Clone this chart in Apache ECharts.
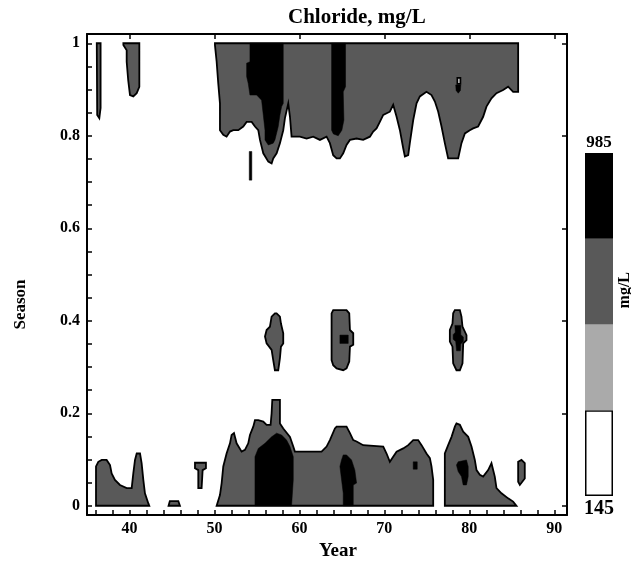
<!DOCTYPE html>
<html><head><meta charset="utf-8">
<script src="https://cdn.jsdelivr.net/npm/echarts@6/dist/echarts.min.js"></script>
<style>html,body{margin:0;padding:0;background:#fff}#c{width:631px;height:567px}</style>
</head><body><div id="c"></div>
<script>
// ---- axes ----
const xTicks = [36,38,40,42,44,46,48,50,52,54,56,58,60,62,64,66,68,70,72,74,76,78,80,82,84,86,88,90];
const xLabels = [40,50,60,70,80,90];
const yTicks = [0,0.05,0.1,0.15,0.2,0.25,0.3,0.35,0.4,0.45,0.5,0.55,0.6,0.65,0.7,0.75,0.8,0.85,0.9,0.95,1];
const yLabels = [0,0.2,0.4,0.6,0.8,1];
// ---- colour levels (mg/L) ----
const levels = [145,355,565,775,985];
const levelColors = ['#ffffff','#aaaaaa','#595959','#000000'];
// ---- contour regions: [year, season] boundary points ----
const topBand = [[50.06,1.0],[85.75,1.0],[85.75,0.895],[85.16,0.895],[84.57,0.906],[83.98,0.899],[83.20,0.892],[82.61,0.881],[82.02,0.863],[81.63,0.841],[81.04,0.820],[80.45,0.816],[80.06,0.812],[79.48,0.805],[79.08,0.784],[78.69,0.751],[77.51,0.751],[77.12,0.784],[76.73,0.820],[76.34,0.852],[75.95,0.874],[75.55,0.888],[74.96,0.895],[74.18,0.885],[73.79,0.870],[73.40,0.834],[73.00,0.784],[72.81,0.758],[72.42,0.755],[72.22,0.773],[71.83,0.812],[71.44,0.841],[71.04,0.867],[70.65,0.852],[69.87,0.845],[69.47,0.830],[69.08,0.816],[68.69,0.809],[68.30,0.798],[67.51,0.791],[66.73,0.794],[65.95,0.791],[65.55,0.780],[65.16,0.762],[64.77,0.751],[64.38,0.751],[63.98,0.758],[63.59,0.784],[63.20,0.798],[62.42,0.791],[61.63,0.798],[60.85,0.794],[60.06,0.798],[59.08,0.798],[58.89,0.841],[58.69,0.870],[58.30,0.838],[58.10,0.812],[57.71,0.784],[57.32,0.762],[56.92,0.751],[56.73,0.740],[56.34,0.744],[55.75,0.762],[55.36,0.791],[55.16,0.812],[54.77,0.820],[54.38,0.830],[53.79,0.830],[53.39,0.820],[52.81,0.812],[52.22,0.812],[51.83,0.809],[51.43,0.798],[51.04,0.802],[50.65,0.812],[50.65,0.870],[50.45,0.913],[50.26,0.960],[50.06,0.996]];
const topThin = [[36.15,1.0],[36.6,1.0],[36.6,0.86],[36.45,0.838],[36.2,0.845]];
const topSmall = [[39.28,1.0],[41.16,1.0],[41.16,0.906],[40.85,0.892],[40.45,0.885],[40.06,0.888],[39.85,0.92],[39.67,0.96],[39.67,0.985],[39.28,0.996]];
const topBlack1 = [[54.18,1.0],[58.10,1.0],[58.10,0.870],[57.91,0.863],[57.71,0.845],[57.51,0.820],[57.12,0.791],[56.92,0.784],[56.34,0.780],[55.95,0.791],[55.95,0.812],[55.75,0.845],[55.55,0.877],[54.97,0.888],[54.18,0.888],[53.98,0.913],[53.79,0.928],[53.79,0.957],[54.18,0.960]];
const topBlack2 = [[63.79,1.0],[65.43,1.0],[65.43,0.906],[65.16,0.895],[65.24,0.834],[65.0,0.812],[64.57,0.800],[64.0,0.804],[63.79,0.812]];
const topBlackDot = [[78.4,0.91],[79.0,0.91],[78.95,0.898],[78.7,0.892],[78.45,0.898]];
const topWhiteDot = [[78.6,0.925],[78.95,0.925],[78.95,0.912],[78.6,0.912]];
const topStreak = [[54.1,0.766],[54.4,0.766],[54.4,0.704],[54.1,0.704]];
const islandA = [[57.12,0.416],[57.32,0.416],[57.71,0.409],[57.83,0.394],[58.10,0.373],[58.10,0.351],[57.83,0.344],[57.71,0.319],[57.51,0.293],[57.12,0.293],[56.92,0.315],[56.73,0.337],[56.14,0.351],[55.95,0.366],[56.14,0.380],[56.53,0.387],[56.73,0.409]];
const islandB = [[63.98,0.423],[65.55,0.423],[65.87,0.416],[65.95,0.380],[66.34,0.373],[66.34,0.348],[65.95,0.344],[65.87,0.312],[65.55,0.297],[65.16,0.293],[64.38,0.297],[63.98,0.304],[63.79,0.315],[63.79,0.416]];
const islandBBlack = [[64.77,0.369],[65.75,0.369],[65.75,0.351],[64.77,0.351]];
const islandC = [[78.30,0.423],[78.89,0.423],[79.08,0.409],[79.20,0.387],[79.67,0.369],[79.67,0.358],[79.28,0.351],[79.20,0.308],[78.89,0.293],[78.49,0.293],[78.10,0.308],[78.02,0.344],[77.71,0.355],[77.71,0.380],[78.02,0.394],[78.10,0.416]];
const islandCBlack = [[78.3,0.39],[79.0,0.39],[79.0,0.37],[79.3,0.365],[79.3,0.355],[79.0,0.35],[78.95,0.335],[78.5,0.335],[78.4,0.355],[78.1,0.36],[78.1,0.37],[78.35,0.375]];
const botLeft = [[36.06,0.0],[36.06,0.085],[36.33,0.095],[36.73,0.099],[37.31,0.099],[37.71,0.088],[37.90,0.070],[38.29,0.056],[38.88,0.045],[39.67,0.038],[40.26,0.038],[40.45,0.070],[40.65,0.099],[40.85,0.113],[41.24,0.113],[41.43,0.092],[41.63,0.056],[41.82,0.027],[42.22,0.005],[42.33,0.0]];
const botTiny = [[44.6,0.0],[44.75,0.01],[45.75,0.01],[45.94,0.0]];
const botT = [[47.71,0.093],[49.00,0.093],[49.00,0.081],[48.61,0.077],[48.49,0.038],[48.10,0.038],[48.10,0.077],[47.71,0.081]];
const botMain = [[50.26,0.0],[50.65,0.023],[50.85,0.049],[51.04,0.085],[51.43,0.113],[51.83,0.135],[52.02,0.153],[52.30,0.157],[52.61,0.135],[53.20,0.117],[53.59,0.121],[53.98,0.135],[54.18,0.153],[54.57,0.171],[54.77,0.185],[55.16,0.185],[55.75,0.182],[56.14,0.175],[56.61,0.175],[56.73,0.200],[56.81,0.229],[57.71,0.229],[57.71,0.178],[58.10,0.167],[58.89,0.149],[59.28,0.128],[59.47,0.117],[62.61,0.117],[63.20,0.128],[63.59,0.142],[64.18,0.167],[64.38,0.171],[65.55,0.171],[65.95,0.157],[66.34,0.142],[66.73,0.139],[67.51,0.131],[69.87,0.128],[70.26,0.113],[70.65,0.095],[71.04,0.106],[71.44,0.117],[72.22,0.124],[72.81,0.131],[73.40,0.142],[73.98,0.142],[74.38,0.131],[74.96,0.113],[75.36,0.103],[75.55,0.085],[75.75,0.056],[75.75,0.0]];
const botRight = [[77.12,0.0],[77.12,0.113],[77.51,0.131],[77.91,0.149],[78.30,0.171],[78.49,0.178],[78.89,0.175],[79.28,0.160],[79.87,0.149],[80.26,0.128],[80.65,0.099],[80.85,0.077],[81.24,0.067],[81.63,0.063],[82.22,0.077],[82.61,0.092],[83.00,0.063],[83.20,0.038],[83.79,0.027],[84.57,0.016],[85.16,0.009],[85.55,0.0]];
const botFarRight = [[85.75,0.095],[86.14,0.099],[86.53,0.092],[86.53,0.059],[85.95,0.045],[85.75,0.052]];
const botBlack1 = [[54.77,0.0],[54.77,0.106],[55.16,0.124],[55.95,0.135],[56.73,0.149],[57.32,0.157],[57.91,0.153],[58.49,0.142],[58.89,0.128],[59.28,0.106],[59.28,0.056],[59.08,0.0]];
const botBlack2 = [[65.16,0.110],[65.55,0.110],[66.14,0.099],[66.53,0.077],[66.73,0.049],[66.34,0.045],[66.34,0.0],[65.16,0.0],[65.16,0.027],[64.77,0.085],[64.96,0.099]];
const botBlack3 = [[73.40,0.095],[73.87,0.095],[73.87,0.079],[73.40,0.079]];
const botBlack4 = [[78.69,0.095],[79.67,0.099],[79.87,0.085],[79.87,0.063],[79.67,0.045],[79.28,0.045],[79.08,0.063],[78.69,0.074],[78.49,0.088]];

const regions = [
  {pts: topBand, level: 2}, {pts: topThin, level: 2}, {pts: topSmall, level: 2},
  {pts: islandA, level: 2}, {pts: islandB, level: 2}, {pts: islandC, level: 2},
  {pts: botLeft, level: 2}, {pts: botTiny, level: 2}, {pts: botT, level: 2},
  {pts: botMain, level: 2}, {pts: botRight, level: 2}, {pts: botFarRight, level: 2},
  {pts: topBlack1, level: 3}, {pts: topBlack2, level: 3}, {pts: topBlackDot, level: 3},
  {pts: topStreak, level: 3}, {pts: islandBBlack, level: 3}, {pts: islandCBlack, level: 3},
  {pts: botBlack1, level: 3}, {pts: botBlack2, level: 3}, {pts: botBlack3, level: 3},
  {pts: botBlack4, level: 3}, {pts: topWhiteDot, level: 0}
];

const FONT = 'Liberation Serif';
const chart = echarts.init(document.getElementById('c'), null, {renderer: 'canvas'});
const lab = {color: '#000', fontFamily: FONT, fontWeight: 'bold', fontSize: 16};

const segSeries = levelColors.map((c, i) => ({
  type: 'bar', xAxisIndex: 2, yAxisIndex: 2, stack: 'cb', barWidth: '100%',
  data: [levels[i + 1] - levels[i]],
  itemStyle: {color: c, borderColor: i === 0 ? '#000' : c, borderWidth: i === 0 ? 1.5 : 0},
  silent: true
}));

chart.setOption({
  animation: false,
  backgroundColor: '#fff',
  title: {text: 'Chloride, mg/L', left: 283, top: 2,
    textStyle: {color: '#000', fontFamily: FONT, fontWeight: 'bold', fontSize: 21}},
  grid: [
    {left: 87, top: 34, width: 480, height: 481, show: false},
    {left: 585, top: 153, width: 28, height: 343, show: false}
  ],
  xAxis: [
    {type: 'value', gridIndex: 0, min: 35, max: 91.5, position: 'bottom',
     name: 'Year', nameLocation: 'middle', nameGap: 27,
     nameTextStyle: {color: '#000', fontFamily: FONT, fontWeight: 'bold', fontSize: 19, padding: [0, 0, 0, 22]},
     axisLine: {show: true, onZero: false, lineStyle: {color: '#000', width: 2}},
     axisTick: {show: true, inside: true, length: 5, customValues: xTicks, lineStyle: {color: '#000', width: 1.5}},
     axisLabel: Object.assign({margin: 6, customValues: xLabels}, lab),
     splitLine: {show: false}},
    {type: 'value', gridIndex: 0, min: 35, max: 91.5, position: 'top',
     axisLine: {show: true, onZero: false, lineStyle: {color: '#000', width: 2}},
     axisTick: {show: true, inside: true, length: 5, customValues: xLabels, lineStyle: {color: '#000', width: 1.5}},
     axisLabel: {show: false}, splitLine: {show: false}},
    {type: 'category', gridIndex: 1, position: 'bottom', data: [String(levels[0])],
     axisLine: {show: false}, axisTick: {show: false},
     axisLabel: {margin: 3, color: '#000', fontFamily: FONT, fontWeight: 'bold', fontSize: 20}},
    {type: 'category', gridIndex: 1, position: 'top', data: [String(levels[4])],
     axisLine: {show: false}, axisTick: {show: false},
     axisLabel: {margin: 2, color: '#000', fontFamily: FONT, fontWeight: 'bold', fontSize: 17}}
  ],
  yAxis: [
    {type: 'value', gridIndex: 0, min: -0.02, max: 1.02, position: 'left',
     name: 'Season', nameLocation: 'middle', nameGap: 58, nameRotate: 90,
     nameTextStyle: {color: '#000', fontFamily: FONT, fontWeight: 'bold', fontSize: 17, padding: [0, 60, 0, 0]},
     axisLine: {show: true, onZero: false, lineStyle: {color: '#000', width: 2}},
     axisTick: {show: true, inside: true, length: 5, customValues: yTicks, lineStyle: {color: '#000', width: 1.5}},
     axisLabel: Object.assign({margin: 7, customValues: yLabels}, lab),
     splitLine: {show: false}},
    {type: 'value', gridIndex: 0, min: -0.02, max: 1.02, position: 'right',
     axisLine: {show: true, onZero: false, lineStyle: {color: '#000', width: 2}},
     axisTick: {show: true, inside: true, length: 5, customValues: yLabels, lineStyle: {color: '#000', width: 1.5}},
     axisLabel: {show: false}, splitLine: {show: false}},
    {type: 'value', gridIndex: 1, min: 0, max: levels[4] - levels[0], show: false}
  ],
  graphic: [
    {type: 'text', left: 617, top: 272, rotation: Math.PI / 2,
     style: {text: 'mg/L', fill: '#000', font: 'bold 16px "Liberation Serif"'}}
  ],
  series: [
    {type: 'custom', xAxisIndex: 0, yAxisIndex: 0, clip: true, silent: true,
     data: regions.map((r, i) => [r.pts[0][0], r.pts[0][1], i]),
     renderItem: function (params, api) {
       const r = regions[api.value(2)];
       const pts = r.pts.map(p => api.coord(p));
       return {type: 'polygon', shape: {points: pts},
         style: {fill: levelColors[r.level], stroke: '#000', lineWidth: r.level === 3 ? 0.5 : 1.8}};
     }}
  ].concat(segSeries)
});
</script></body></html>
